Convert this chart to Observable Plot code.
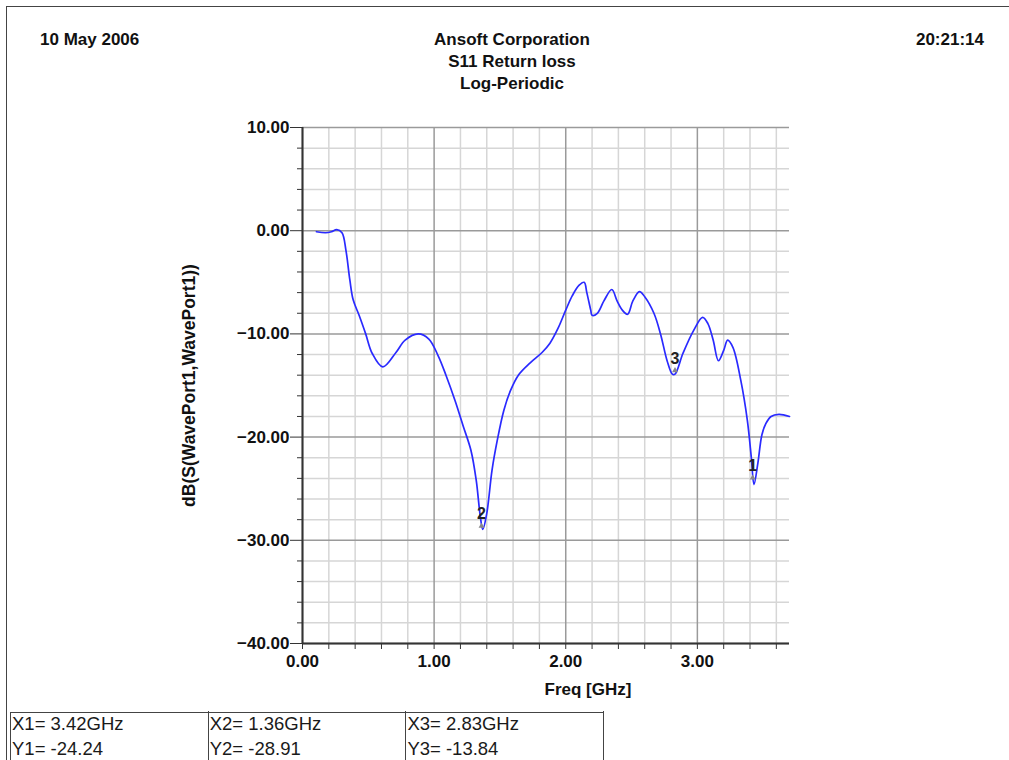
<!DOCTYPE html>
<html><head><meta charset="utf-8">
<script src="https://cdn.jsdelivr.net/npm/d3@7"></script>
<script src="https://cdn.jsdelivr.net/npm/@observablehq/plot@0.6"></script>
<style>
body{margin:0;background:#fff;font-family:"Liberation Sans",Arial,sans-serif;}
#page{position:relative;width:1009px;height:760px;overflow:hidden;background:#fff;}
#frame{position:absolute;left:6px;top:6px;width:1010px;height:760px;border-top:1.5px solid #444;border-left:1.5px solid #444;}
.hdr{position:absolute;font-weight:bold;font-size:17px;color:#111;white-space:nowrap;line-height:22px;}
#chart{position:absolute;left:0;top:0;}
#tbl{position:absolute;left:10px;top:712px;height:60px;display:flex;border:1.5px solid #444;border-right:none;}
#tbl .col{width:197.7px;border-right:1.5px solid #444;font-size:18.5px;color:#1a1a1a;line-height:25px;padding-left:1px;padding-top:0;box-sizing:border-box;margin-top:-2px;}
</style></head>
<body>
<div id="page">
  <div id="frame"></div>
  <div id="chart"></div>
  <div class="hdr" id="hdate" style="left:40px;top:29px;"></div>
  <div class="hdr" id="htitle" style="left:0;width:1024px;top:29px;text-align:center;"></div>
  <div class="hdr" id="htime" style="right:25px;top:29px;"></div>
  <div id="tbl"></div>
</div>
<script>
const headerDate = "10 May 2006";
const headerTime = "20:21:14";
const titleLines = ["Ansoft Corporation", "S11 Return loss", "Log-Periodic"];
const xLabel = "Freq [GHz]";
const yLabel = "dB(S(WavePort1,WavePort1))";

const freq = [0.106,0.175,0.22,0.26,0.30,0.33,0.36,0.385,0.43,0.48,0.53,0.61,0.71,0.78,0.88,0.96,1.03,1.09,1.16,1.22,1.28,1.32,1.35,1.37,1.40,1.44,1.48,1.53,1.58,1.64,1.73,1.82,1.88,1.94,2.00,2.05,2.10,2.14,2.16,2.19,2.20,2.24,2.29,2.35,2.39,2.43,2.47,2.51,2.56,2.60,2.67,2.72,2.77,2.81,2.83,2.89,2.97,3.04,3.08,3.12,3.16,3.20,3.23,3.27,3.33,3.38,3.41,3.43,3.46,3.49,3.52,3.56,3.62,3.70];
const s11 = [-0.10,-0.2,-0.1,0.1,-0.2,-1.9,-4.8,-6.7,-8.2,-10.0,-11.9,-13.2,-11.8,-10.6,-10.0,-10.5,-12.1,-14.0,-16.5,-18.9,-21.3,-24.2,-27.6,-28.95,-27.4,-23.2,-20.3,-17.4,-15.5,-14.0,-12.8,-11.8,-10.9,-9.5,-7.7,-6.3,-5.3,-5.0,-6.0,-7.7,-8.2,-8.0,-6.8,-5.7,-6.8,-7.7,-8.1,-6.8,-5.9,-6.4,-8.0,-10.0,-12.6,-13.9,-13.9,-11.9,-9.7,-8.4,-9.0,-10.6,-12.6,-11.6,-10.6,-11.3,-14.5,-18.4,-22.0,-24.6,-22.5,-19.8,-18.7,-18.0,-17.8,-18.0];

const markerName = ["1", "2", "3"];
const markerX = [3.42, 1.36, 2.83];
const markerY = [-24.24, -28.91, -13.84];

const xMajor = [0, 1, 2, 3];
const xMinor = [0.2,0.4,0.6,0.8,1.2,1.4,1.6,1.8,2.2,2.4,2.6,2.8,3.2,3.4,3.6];
const yMajor = [-40, -30, -20, -10, 0, 10];
const yMinor = [-38,-36,-34,-32,-28,-26,-24,-22,-18,-16,-14,-12,-8,-6,-4,-2,2,4,6,8];

const curve = freq.map((f, i) => ({f, v: s11[i]}));
const markers = markerName.map((n, i) => ({n, x: markerX[i], y: markerY[i]}));

document.getElementById("hdate").textContent = headerDate;
document.getElementById("htime").textContent = headerTime;
document.getElementById("htitle").innerHTML = titleLines.join("<br>");

const fmt = d3.format(".2f");
const chart = Plot.plot({
  width: 1009, height: 760,
  marginTop: 127, marginBottom: 117, marginLeft: 302, marginRight: 220,
  style: {fontFamily: "'Liberation Sans', Arial, sans-serif", background: "transparent"},
  x: {domain: [0, 3.7]},
  y: {domain: [-40, 10]},
  marks: [
    Plot.gridX(xMinor, {stroke: "#d6d6d6", strokeOpacity: 1, strokeWidth: 1.5}),
    Plot.gridY(yMinor, {stroke: "#d6d6d6", strokeOpacity: 1, strokeWidth: 1.5}),
    Plot.gridX(xMajor, {stroke: "#9a9a9a", strokeOpacity: 1, strokeWidth: 1.5}),
    Plot.gridY(yMajor, {stroke: "#9a9a9a", strokeOpacity: 1, strokeWidth: 1.5}),
    Plot.axisY(yMinor, {tickSize: 5, tickFormat: () => "", stroke: "#333", label: null}),
    Plot.axisY(yMajor, {tickSize: 12, tickPadding: 1, tickFormat: fmt, fontSize: 17, fontWeight: "bold", fill: "#111", stroke: "#333",
      label: yLabel, labelAnchor: "center", labelArrow: "none", labelOffset: 120}),
    Plot.axisX(xMinor, {tickSize: 6, tickFormat: () => "", stroke: "#333", label: null}),
    Plot.axisX(xMajor, {tickSize: 6, tickPadding: 5, tickFormat: fmt, fontSize: 17, fontWeight: "bold", fill: "#111", stroke: "#333", label: null}),
    Plot.ruleX([0], {stroke: "#333", strokeWidth: 2}),
    Plot.ruleY([-40], {stroke: "#333", strokeWidth: 2}),
    Plot.text([xLabel], {frameAnchor: "bottom", dx: 42, dy: 51, fontSize: 17, fontWeight: "bold", fill: "#111"}),
    Plot.line(curve, {x: "f", y: "v", stroke: "#2a2aff", strokeWidth: 1.7, curve: "catmull-rom"}),
    Plot.dot(markers, {x: "x", y: "y", symbol: "triangle", r: 2.2, fill: "#888", stroke: "none", dy: -3}),
    Plot.text(markers, {x: "x", y: "y", text: "n", dy: -15, fontSize: 16, fontWeight: "bold", fill: "#222"})
  ]
});
chart.querySelectorAll("g[aria-label='y-axis label'] text, g[aria-label='y-axis label']").forEach(el => {
  el.setAttribute("font-size", 17.5); el.setAttribute("font-weight", "bold"); el.setAttribute("fill", "#111");
});
document.getElementById("chart").appendChild(chart);

const tbl = document.getElementById("tbl");
markers.forEach(m => {
  const col = document.createElement("div");
  col.className = "col";
  col.innerHTML = `X${m.n}= ${m.x.toFixed(2)}GHz<br>Y${m.n}= ${m.y.toFixed(2)}`;
  tbl.appendChild(col);
});
</script>
</body></html>
